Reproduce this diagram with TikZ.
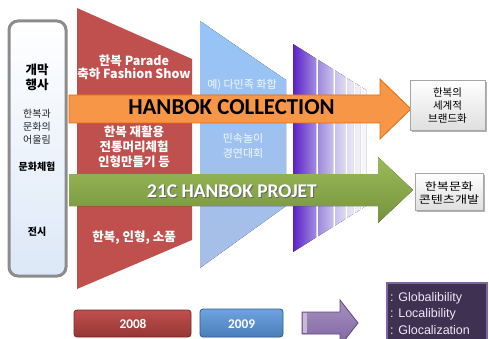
\documentclass[tikz,border=0pt]{standalone}
\usepackage{fontspec}
\setmainfont{Carlito}
\newfontfamily\krfont{Noto Sans CJK KR}
\newfontfamily\krwide{Noto Sans CJK KR}[FakeStretch=1.25]
\newfontfamily\arialfont{Liberation Sans}
\usetikzlibrary{positioning}

\definecolor{boxblue}{HTML}{DCE8F7}
\definecolor{boxgray}{HTML}{8C8C8C}
\definecolor{hbred}{HTML}{C0504D}
\definecolor{hbreddark}{HTML}{943634}
\definecolor{skytop}{HTML}{95C4F7}
\definecolor{skybot}{HTML}{A8BEE7}
\definecolor{hborange}{HTML}{F79646}
\definecolor{hborangedark}{HTML}{E46C0A}
\definecolor{hbgreen}{HTML}{9BBB59}
\definecolor{hbgreendark}{HTML}{76923C}
\definecolor{yrblue}{HTML}{6FA3E0}
\definecolor{yrbluedark}{HTML}{4A7EBB}
\definecolor{yrblueline}{HTML}{2C5A8C}
\definecolor{plum}{HTML}{8064A2}
\definecolor{plumdark}{HTML}{3F3151}
\definecolor{plumline}{HTML}{5F497A}
\definecolor{plumtext}{HTML}{EDE7F5}

\begin{document}
\begin{tikzpicture}[x=1pt, y=-1pt,
  kr/.style={font=\krfont\fontsize{10}{13}\selectfont, align=center, inner sep=0pt},
  redtxt/.style={kr, font=\krfont\bfseries\fontsize{12.5}{15}\selectfont, text=white},
  skytxt/.style={kr, font=\krfont\fontsize{11}{15}\selectfont, text=white!90!skytop},
  goalbox/.style={draw=gray!70, line width=0.8pt, top color=white, bottom color=gray!25},
  yearbox/.style={rounded corners=3pt, line width=0.8pt},
  yeartxt/.style={font=\bfseries\fontsize{13.3}{15}\selectfont, text=white, inner sep=0pt},
]
  \clip (0,0) rectangle (489,339);

  % left column
  \draw[line width=3pt, draw=boxgray, rounded corners=9pt, top color=white, bottom color=boxblue]
    (9,21) rectangle (66,276);
  \node[kr, font=\krfont\bfseries\fontsize{12.5}{15}\selectfont] (open) at (37,77.5) {개막\\행사};
  \node[kr, text=black!85] (mix) at (37,127) {한복과\\문화의\\어울림};
  \node[kr, font=\krfont\bfseries\fontsize{10}{13}\selectfont] (exp) at (37,167) {문화체험};
  \node[kr, font=\krfont\bfseries\fontsize{10}{13}\selectfont] (exh) at (37,232) {전시};

  % 2008 / 2009 fields
  \fill[hbred] (77,8) -- (192,59) -- (192,240) -- (77,289) -- cycle;
  \fill[top color=skytop, bottom color=skybot] (200,21) -- (286,80) -- (286,206) -- (200,268) -- cycle;

  \node[redtxt, font=\krfont\bfseries\fontsize{12.5}{13}\selectfont] (parade) at (134,67.5) {한복 Parade\\축하 Fashion Show};
  \node[redtxt] (reuse) at (134,147) {한복 재활용\\전통머리체험\\인형만들기 등};
  \node[redtxt] (items) at (134,238) {한복, 인형, 소품};
  \node[skytxt] (ethnic) at (242,85) {예) 다민족 화합};
  \node[skytxt] (folk) at (243,145.5) {민속놀이\\경연대회};

  % fading strips
  \foreach \xa/\xb/\cl/\cr in {293/316/5B21C6/A18BE0, 318/333/9F8ADB/C7BDEC,
      335/345/C9C0EC/DDD8F3, 347/353/E0DCF4/E9E6F7, 355/360/EDEBF8/F2F1FA,
      362/366/F5F4FB/F8F8FC}{
    \definecolor{sl}{HTML}{\cl}
    \definecolor{sr}{HTML}{\cr}
    \pgfmathsetmacro{\ta}{44+0.63*(\xa-293)}
    \pgfmathsetmacro{\tb}{44+0.63*(\xb-293)}
    \fill[left color=sl, right color=sr]
      (\xa,\ta) -- (\xb,\tb) -- (\xb,296-\tb) -- (\xa,296-\ta) -- cycle;
  }

  % project arrows
  \draw[fill=hborange, draw=hborangedark, line width=0.8pt]
    (69,95) -- (380,95) -- (380,79) -- (411,109) -- (380,139) -- (380,123) -- (69,123) -- cycle;
  \node[font=\bfseries\fontsize{22.8}{24}\selectfont, anchor=base, inner sep=0pt] (coll) at (231.5,115) {HANBOK COLLECTION};

  \fill[top color=hbgreen, bottom color=hbgreendark]
    (69,174) -- (378,174) -- (378,157) -- (413,190) -- (378,223) -- (378,206) -- (69,206) -- cycle;
  \node[font=\bfseries\fontsize{19.4}{21}\selectfont, anchor=base, inner sep=0pt, text=black!60] at (233,198) {21C HANBOK PROJET};
  \node[font=\bfseries\fontsize{19.4}{21}\selectfont, anchor=base, inner sep=0pt, text=white] (proj) at (232,197) {21C HANBOK PROJET};

  % goals
  \fill[gray!60] (412,82) rectangle (487,132);
  \draw[goalbox] (410,80) rectangle (485,130);
  \node[kr, font=\krfont\fontsize{10.5}{13}\selectfont] (brand) at (447.5,106) {한복의\\세계적\\브랜드화};
  \fill[gray!60] (417,175) rectangle (485,212);
  \draw[goalbox] (415,173) rectangle (483,210);
  \node[kr, font=\krwide\fontsize{10.5}{12.5}\selectfont] (content) at (449,193) {한복문화\\콘텐츠개발};

  % years
  \draw[yearbox, draw=hbreddark!80!black, top color=hbred, bottom color=hbreddark] (74,310) rectangle (191,337);
  \node[yeartxt] (y2008) at (133,324) {2008};
  \draw[yearbox, draw=yrblueline, top color=yrblue, bottom color=yrbluedark] (200,309) rectangle (283,337);
  \node[yeartxt] (y2009) at (241.5,324) {2009};

  \draw[draw=plumline, line width=0.8pt, top color=plum!70, bottom color=plum]
    (302,312) -- (340,312) -- (340,300) -- (358,323) -- (340,346) -- (340,334) -- (302,334) -- cycle;
  \fill[plum!45] (303,313) rectangle (307,333);

  \draw[fill=plumdark, draw=plum, line width=1.5pt] (387,283) rectangle (487,350);
  \node[font=\arialfont\fontsize{12.5}{16.5}\selectfont, text=plumtext, align=left, anchor=north west, inner sep=0pt]
    (glo) at (390,292) {: Globalibility\\: Localibility\\: Glocalization};
\end{tikzpicture}
\end{document}
